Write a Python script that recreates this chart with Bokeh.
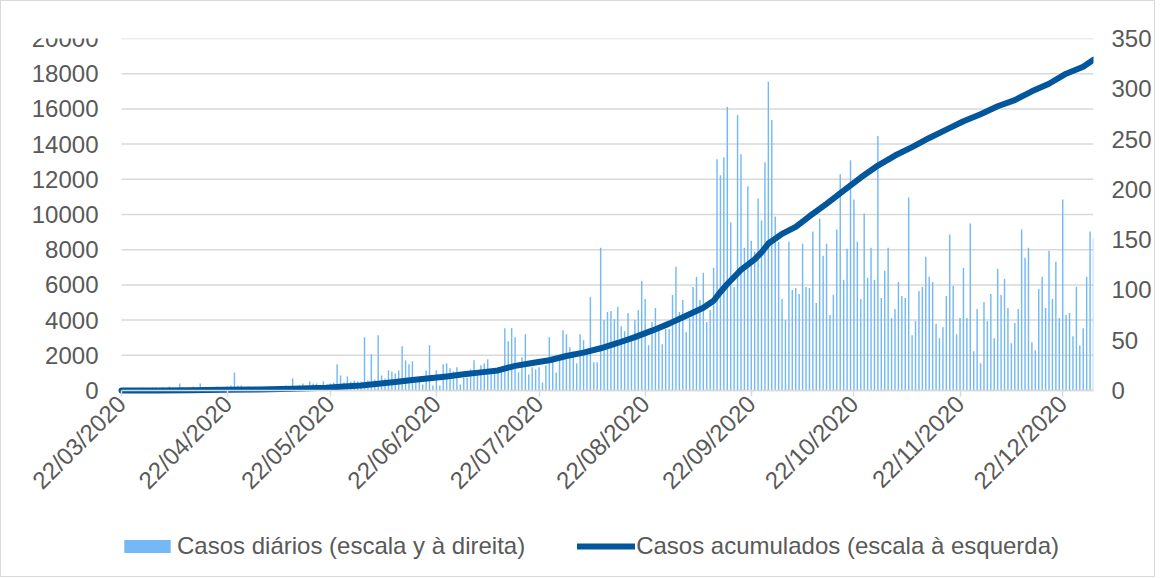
import numpy as np
import pandas as pd
from bokeh.plotting import figure
from bokeh.models import (Range1d, LinearAxis, FixedTicker, DatetimeTickFormatter,
                          Legend, LegendItem)
from bokeh.embed import file_html
from bokeh.resources import INLINE
from math import pi

# ---------------- data ----------------
start_date = "22/03/2020"

# daily cases (right axis, 0-350), one value per day from 22/03/2020 to 31/12/2020
daily_cases = [
    1, 1, 2, 1, 2, 2, 3, 2, 2, 3,
    3, 2, 3, 2, 4, 3, 2, 7, 3, 2,
    3, 4, 2, 7, 3, 2, 3, 3, 4, 3,
    3, 4, 5, 18, 5, 5, 3, 4, 3, 2,
    3, 2, 3, 3, 2, 4, 3, 3, 5, 3,
    12, 4, 5, 7, 4, 9, 7, 7, 5, 9,
    6, 7, 8, 26, 15, 8, 14, 9, 10, 9,
    9, 53, 10, 36, 11, 55, 15, 12, 20, 19,
    17, 20, 44, 30, 26, 29, 9, 12, 6, 20,
    45, 5, 20, 5, 26, 27, 22, 19, 23, 6,
    13, 13, 21, 30, 17, 25, 27, 31, 17, 18,
    23, 23, 62, 49, 62, 53, 18, 33, 56, 16,
    23, 21, 23, 8, 25, 53, 30, 18, 33, 60,
    56, 43, 39, 27, 56, 50, 38, 93, 28, 28,
    142, 70, 78, 79, 71, 83, 64, 59, 77, 50,
    70, 80, 109, 91, 45, 68, 82, 60, 46, 61,
    61, 95, 123, 78, 90, 58, 72, 103, 113, 90,
    117, 68, 80, 122, 230, 214, 232, 282, 167, 103,
    274, 235, 142, 203, 149, 138, 191, 169, 227, 307,
    269, 173, 148, 91, 70, 148, 100, 102, 96, 146,
    103, 102, 158, 87, 171, 134, 146, 75, 95, 160,
    215, 110, 141, 229, 190, 148, 91, 176, 112, 142,
    110, 253, 92, 119, 142, 72, 81, 108, 94, 92,
    192, 55, 69, 99, 103, 133, 113, 108, 66, 52,
    63, 94, 155, 104, 56, 72, 122, 72, 166, 39,
    81, 27, 88, 69, 96, 52, 121, 95, 111, 82,
    47, 67, 81, 160, 132, 142, 48, 40, 101, 113,
    82, 139, 91, 128, 72, 190, 75, 77, 54, 103,
    45, 62, 113, 158, 152,
]

# cumulative cases (left axis, 0-20000), sampled days after 22/03/2020
line_day_offsets = [0, 10, 20, 30, 40, 50, 60, 65, 70, 75, 80, 85, 90, 95, 100,
                    105, 110, 115, 120, 125, 130, 135, 140, 145, 150, 155, 160,
                    165, 170, 173, 175, 177, 179, 181, 183, 185, 187, 189, 191,
                    193, 197, 201, 206, 211, 216, 221, 226, 231, 236, 241, 246,
                    251, 256, 261, 266, 271, 276, 281, 284]
cumulative_cases = [0, 5, 20, 40, 60, 100, 160, 230, 290, 380, 480, 600, 700, 800, 920,
                    1030, 1140, 1400, 1560, 1720, 1960, 2150, 2400, 2700, 3030, 3400, 3800,
                    4250, 4700, 5100, 5600, 6050, 6450, 6850, 7150, 7450, 7850, 8350, 8620,
                    8900, 9300, 9900, 10600, 11350, 12100, 12780, 13350, 13830, 14350, 14820, 15300,
                    15700, 16150, 16500, 17000, 17430, 18000, 18400, 18800]

tick_labels = ["22/03/2020", "22/04/2020", "22/05/2020", "22/06/2020", "22/07/2020",
               "22/08/2020", "22/09/2020", "22/10/2020", "22/11/2020", "22/12/2020"]
left_ticks = [0, 2000, 4000, 6000, 8000, 10000, 12000, 14000, 16000, 18000, 20000]
right_ticks = [0, 50, 100, 150, 200, 250, 300, 350]

series_labels = ["Casos diários (escala y à direita)", "Casos acumulados (escala à esquerda)"]

# ---------------- build ----------------
start = pd.to_datetime(start_date, format="%d/%m/%Y")
dates = [(start + pd.Timedelta(days=i)).to_pydatetime() for i in range(len(daily_cases))]
line_dates = [(start + pd.Timedelta(days=int(d))).to_pydatetime() for d in line_day_offsets]
tick_ms = [pd.to_datetime(t, format="%d/%m/%Y").value // 10**6 for t in tick_labels]

FONT = "Liberation Sans"
TXT = "#595959"
GRID = "#d9d9d9"
BAR = "#74b9f5"
LINE = "#02569b"
FS = "24px"

# layout: data area 972 x 352 px; the frame is extended left and down so the
# value labels, rotated date labels and legend can live inside it
DATA_W, DATA_H = 972, 352
EXT_L = 111           # extra frame px to the left of the first date
FRAME_H = 538
left_max = left_ticks[-1]
right_max = right_ticks[-1]
ext = (FRAME_H - DATA_H) / DATA_H
first_ms = float(pd.Timestamp(dates[0]).value // 10**6)
last_ms = float(pd.Timestamp(dates[-1]).value // 10**6)
ms_per_px = (last_ms - first_ms) / DATA_W
x_lo_ms = first_ms - ms_per_px * EXT_L

p = figure(frame_width=DATA_W + EXT_L, frame_height=FRAME_H, x_axis_type="datetime",
           output_backend="svg", toolbar_location=None,
           x_range=Range1d(x_lo_ms, last_ms),
           y_range=Range1d(-ext * left_max, left_max),
           min_border_left=9, min_border_right=57, min_border_top=37, min_border_bottom=0)
p.styles = {"border": "1px solid #d9d9d9"}
p.extra_y_ranges = {"right": Range1d(-ext * right_max, right_max)}
p.outline_line_color = None
p.background_fill_color = "white"
p.border_fill_color = "white"

# horizontal gridlines, only across the date span
p.segment(x0=[dates[0]] * len(left_ticks), x1=[dates[-1]] * len(left_ticks),
          y0=left_ticks, y1=left_ticks, line_color=GRID, line_width=1.5)

bars = p.vbar(x=dates, top=daily_cases, bottom=0, width=0.42 * 86400000, fill_color=BAR,
              line_color=None, y_range_name="right")
line = p.line(x=line_dates, y=cumulative_cases, line_width=6, line_color=LINE,
              line_cap="round", line_join="round")

# x axis, pinned at y = 0
xa = p.xaxis[0]
xa.fixed_location = 0
xa.bounds = (first_ms, last_ms)
xa.ticker = FixedTicker(ticks=tick_ms)
fmt = "%d/%m/%Y"
xa.formatter = DatetimeTickFormatter(milliseconds=fmt, seconds=fmt, minsec=fmt, minutes=fmt,
                                     hourmin=fmt, hours=fmt, days=fmt, months=fmt, years=fmt)
xa.major_label_orientation = pi / 4
xa.axis_line_color = GRID
xa.axis_line_width = 1.5
xa.major_tick_line_color = GRID
xa.major_tick_line_width = 1.5
xa.major_tick_out = 6
xa.major_tick_in = 0
xa.minor_tick_line_color = None
xa.major_label_text_font = FONT
xa.major_label_text_font_size = FS
xa.major_label_text_color = TXT
xa.major_label_standoff = 3

# left axis, pinned at the first date
ya = p.yaxis[0]
ya.fixed_location = first_ms
ya.ticker = FixedTicker(ticks=left_ticks)
ya.axis_line_color = None
ya.major_tick_line_color = None
ya.minor_tick_line_color = None
ya.major_label_text_font = FONT
ya.major_label_text_font_size = FS
ya.major_label_text_color = TXT
ya.major_label_standoff = 17

# right axis
ra = LinearAxis(y_range_name="right", ticker=FixedTicker(ticks=right_ticks))
ra.axis_line_color = None
ra.major_tick_line_color = None
ra.minor_tick_line_color = None
ra.major_label_text_font = FONT
ra.major_label_text_font_size = FS
ra.major_label_text_color = TXT
ra.major_label_standoff = 12
p.add_layout(ra, "right")

p.xgrid.grid_line_color = None
p.ygrid.grid_line_color = None

legend = Legend(items=[LegendItem(label=series_labels[0], renderers=[bars]),
                       LegendItem(label=series_labels[1], renderers=[line])],
                orientation="horizontal", location=(EXT_L - 3, 16))
legend.label_text_font = FONT
legend.label_text_font_size = FS
legend.label_text_color = TXT
legend.border_line_color = None
legend.background_fill_alpha = 0
legend.glyph_width = 58
legend.glyph_height = 16
legend.label_standoff = 1
legend.spacing = 52
legend.padding = 0
legend.margin = 0
p.add_layout(legend, "center")

open("out.html", "w").write(file_html(p, INLINE))
